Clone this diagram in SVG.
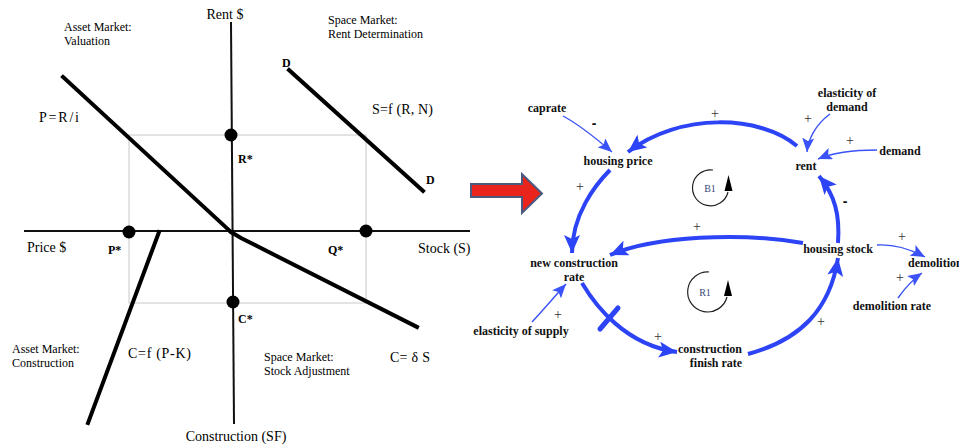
<svg xmlns="http://www.w3.org/2000/svg" width="959" height="446" viewBox="0 0 959 446">
<style>
.lbl{font-family:"Liberation Serif","Times New Roman",serif;fill:#000}
.axl{font-size:14px}
.sm{font-size:12px}
.st{font-size:12px;font-weight:bold}
.fx{font-size:14px}
.ax{stroke:#111;stroke-width:2;fill:none}
.cv{stroke:#000;stroke-width:4;fill:none;stroke-linecap:square}
.grid{stroke:#c8c8c8;stroke-width:1;fill:none}
.dot{fill:#000}
.nd{font-family:"Liberation Serif","Times New Roman",serif;font-weight:bold;font-size:12px;fill:#111}
.pl{font-family:"Liberation Serif","Times New Roman",serif;font-size:14px;fill:#333}
.mn{font-family:"Liberation Sans",Arial,sans-serif;font-weight:bold;font-size:14px;fill:#111}
.thick{stroke:#2d43f6;stroke-width:4;fill:none}
.thin{stroke:#3a52f6;stroke-width:1.4;fill:none}
.loop{stroke:#222;stroke-width:1.2;fill:none}
.lt{font-family:"Liberation Serif","Times New Roman",serif;font-size:10px;fill:#34477a}
</style>
<defs>
<marker id="ah" markerUnits="userSpaceOnUse" markerWidth="20" markerHeight="16" refX="18" refY="8" orient="auto">
<path d="M0,0 L18,8 L0,16 L4,8 z" fill="#2d43f6"/>
</marker>
<marker id="ahs" markerUnits="userSpaceOnUse" markerWidth="15" markerHeight="12" refX="14" refY="6" orient="auto">
<path d="M0,0 L14,6 L0,12 L3,6 z" fill="#3a52f6"/>
</marker>
</defs>

<g id="four-quadrant">
<rect class="grid" x="129" y="135" width="237" height="168"/>
<line class="ax" x1="231" y1="22" x2="234" y2="424"/>
<line class="ax" x1="24" y1="231" x2="470" y2="231"/>
<line class="cv" x1="63" y1="77" x2="231" y2="232"/>
<polyline class="cv" points="231,232 241,238 417,327"/>
<line class="cv" x1="289" y1="70" x2="423" y2="191"/>
<line class="cv" x1="159" y1="232" x2="88" y2="423"/>
<circle class="dot" cx="231" cy="135" r="6.5"/>
<circle class="dot" cx="129" cy="232" r="6.5"/>
<circle class="dot" cx="366" cy="231" r="6.5"/>
<circle class="dot" cx="233" cy="302" r="6.5"/>
<text class="lbl axl" x="225" y="19" text-anchor="middle">Rent $</text>
<text class="lbl sm" x="64" y="31">Asset Market:</text>
<text class="lbl sm" x="64" y="45">Valuation</text>
<text class="lbl sm" x="328" y="24">Space Market:</text>
<text class="lbl sm" x="328" y="38">Rent Determination</text>
<text class="lbl st" x="282" y="67">D</text>
<text class="lbl st" x="426" y="184">D</text>
<text class="lbl fx" x="372" y="114" textLength="61" lengthAdjust="spacing">S=f (R, N)</text>
<text class="lbl fx" x="39" y="122" textLength="40" lengthAdjust="spacing">P=R/i</text>
<text class="lbl st" x="238" y="163">R*</text>
<text class="lbl st" x="108" y="254">P*</text>
<text class="lbl st" x="328" y="254">Q*</text>
<text class="lbl axl" x="27" y="252">Price $</text>
<text class="lbl axl" x="418" y="253">Stock (S)</text>
<text class="lbl st" x="238" y="323">C*</text>
<text class="lbl sm" x="12" y="353">Asset Market:</text>
<text class="lbl sm" x="12" y="367">Construction</text>
<text class="lbl fx" x="128" y="358" textLength="63" lengthAdjust="spacing">C=f (P-K)</text>
<text class="lbl sm" x="264" y="361">Space Market:</text>
<text class="lbl sm" x="264" y="375">Stock Adjustment</text>
<text class="lbl fx" x="390" y="362" textLength="40" lengthAdjust="spacing">C= δ S</text>
<text class="lbl axl" x="236" y="441" text-anchor="middle">Construction (SF)</text>
</g>

<g id="red-arrow">
<path d="M471,184 L522,184 L522,174 L542,193.5 L522,213 L522,197 L471,197 z" fill="#e8241d" stroke="#4a5a80" stroke-width="2" stroke-linejoin="miter"/>
</g>

<g id="connectors">
<path class="thick" d="M797,146 C760,115 680,112 628,152" marker-end="url(#ah)"/>
<path class="thick" d="M610,170 C595,185 572,215 572,253" marker-end="url(#ah)"/>
<path class="thick" d="M803,243 C740,232 655,236 610,255" marker-end="url(#ah)"/>
<path class="thick" d="M838,243 C840,215 835,195 819,176" marker-end="url(#ah)"/>
<path class="thick" d="M582,283 C595,305 625,345 677,352" marker-end="url(#ah)"/>
<line x1="600" y1="329" x2="618" y2="308" stroke="#2d43f6" stroke-width="5" stroke-linecap="round"/>
<path class="thick" d="M748,354 C800,340 830,310 838,258" marker-end="url(#ah)"/>
<path class="thin" d="M563,116 C580,125 598,140 612,152" marker-end="url(#ahs)"/>
<path class="thin" d="M830,114 C815,125 808,140 807,152" marker-end="url(#ahs)"/>
<path class="thin" d="M877,150 C850,150 830,154 818,159" marker-end="url(#ahs)"/>
<path class="thin" d="M877,245 C895,244 912,250 925,257" marker-end="url(#ahs)"/>
<path class="thin" d="M898,298 C905,288 912,280 922,273" marker-end="url(#ahs)"/>
<path class="thin" d="M532,322 C545,308 555,296 566,284" marker-end="url(#ahs)"/>
</g>

<g id="polarities">
<text class="pl" x="715" y="118" text-anchor="middle">+</text>
<text class="mn" x="594" y="128" text-anchor="middle">-</text>
<text class="pl" x="808" y="123" text-anchor="middle">+</text>
<text class="pl" x="850" y="145" text-anchor="middle">+</text>
<text class="pl" x="580" y="191" text-anchor="middle">+</text>
<text class="mn" x="845" y="206" text-anchor="middle">-</text>
<text class="pl" x="697" y="231" text-anchor="middle">+</text>
<text class="pl" x="902" y="241" text-anchor="middle">+</text>
<text class="pl" x="900" y="282" text-anchor="middle">+</text>
<text class="pl" x="558" y="319" text-anchor="middle">+</text>
<text class="pl" x="658" y="341" text-anchor="middle">+</text>
<text class="pl" x="821" y="326" text-anchor="middle">+</text>
</g>

<g id="loop-B1">
<path class="loop" d="M713,170 A18,18 0 1 0 728,192"/>
<polygon points="728.5,175 724.5,191 732.5,191" fill="#000"/>
<text class="lt" x="710" y="192" text-anchor="middle">B1</text>
</g>
<g id="loop-R1">
<path class="loop" d="M709,272 A20,20 0 1 0 727,297"/>
<polygon points="728,280 724,296 732,296" fill="#000"/>
<text class="lt" x="705" y="296" text-anchor="middle" fill="#444">R1</text>
</g>

<g id="caprate"><text class="nd" x="547" y="112" text-anchor="middle">caprate</text></g>
<g id="housing-price"><text class="nd" x="618" y="165" text-anchor="middle">housing price</text></g>
<g id="rent"><text class="nd" x="806" y="170" text-anchor="middle">rent</text></g>
<g id="elasticity-of-demand"><text class="nd" x="847" y="97" text-anchor="middle">elasticity of</text><text class="nd" x="847" y="111" text-anchor="middle">demand</text></g>
<g id="demand"><text class="nd" x="900" y="155" text-anchor="middle">demand</text></g>
<g id="housing-stock"><text class="nd" x="838" y="253" text-anchor="middle">housing stock</text></g>
<g id="demolition"><text class="nd" x="908" y="267">demolition</text></g>
<g id="demolition-rate"><text class="nd" x="892" y="310" text-anchor="middle">demolition rate</text></g>
<g id="new-construction-rate"><text class="nd" x="574" y="267" text-anchor="middle">new construction</text><text class="nd" x="574" y="281" text-anchor="middle">rate</text></g>
<g id="elasticity-of-supply"><text class="nd" x="521" y="335" text-anchor="middle">elasticity of supply</text></g>
<g id="construction-finish-rate"><text class="nd" x="710" y="353" text-anchor="middle">construction</text><text class="nd" x="716" y="367" text-anchor="middle">finish rate</text></g>
</svg>
